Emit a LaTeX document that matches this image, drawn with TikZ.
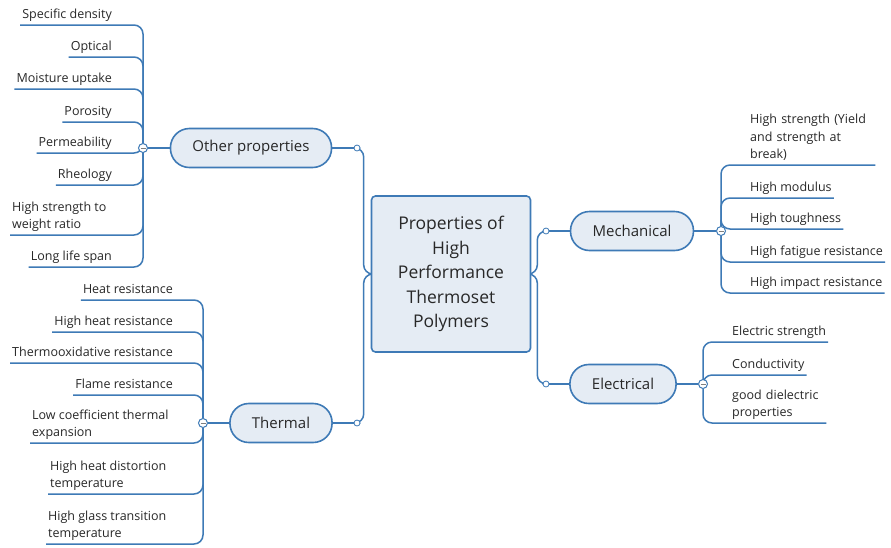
\documentclass[tikz,border=0pt]{standalone}
\usepackage{fontspec}
\setmainfont{Open Sans}
\definecolor{mapblue}{RGB}{62,122,182}
\definecolor{mapfill}{RGB}{229,236,244}
\definecolor{maptext}{RGB}{40,40,40}
\pgfdeclarelayer{back}
\pgfdeclarelayer{wires}
\pgfsetlayers{back,wires,main}

\tikzset{
  rootbox/.style={draw=mapblue, fill=mapfill, line width=1.6pt, rounded corners=4pt,
    minimum width=159pt, minimum height=156pt, align=center,
    font=\fontsize{17.5}{24.5}\selectfont, text=maptext},
  topic/.style={draw=mapblue, fill=mapfill, line width=1.6pt, rounded corners=19pt,
    minimum height=39pt, inner xsep=22pt, font=\fontsize{15}{17}\selectfont, text=maptext},
  leaf/.style={inner xsep=2pt, inner ysep=1pt, font=\fontsize{12.5}{17.5}\selectfont,
    text=maptext, execute at end node=\strut},
  hub/.style={circle, draw=mapblue, fill=white, line width=1pt, minimum size=9pt, inner sep=0pt,
    path picture={\draw[gray, line width=1pt]
      ([xshift=-2.5pt]path picture bounding box.center) -- ([xshift=2.5pt]path picture bounding box.center);}},
  joint/.style={circle, draw=mapblue, fill=white, line width=0.8pt, minimum size=6pt, inner sep=0pt},
  branch/.style={draw=mapblue, line width=1.5pt, rounded corners=9pt},
}

\begin{document}
\begin{tikzpicture}[x=1pt,y=-1pt]
    \begin{pgfonlayer}{back}
        \fill[white] (0,0) rectangle (891,547);
    \end{pgfonlayer}
    \useasboundingbox (0,0) rectangle (891,547);

    % centre
    \node[rootbox] (root) at (451,274) {Properties of\\High\\Performance\\Thermoset\\Polymers};

    % main topics
    \node[topic] (other) at (251,148) {Other properties};
    \node[topic] (thermal) at (281,423) {Thermal};
    \node[topic] (mech) at (632,231) {Mechanical};
    \node[topic] (elec) at (623,384) {Electrical};

    \node[joint] (oj) at (357,148) {};
    \node[joint] (tj) at (357,423) {};
    \node[joint] (mj) at (546,231) {};
    \node[joint] (ej) at (546,384) {};

    \node[hub] (oh) at (143,148) {};
    \node[hub] (th) at (203,423) {};
    \node[hub] (mh) at (721,231) {};
    \node[hub] (eh) at (703,384) {};

    % other properties
    \node[leaf, anchor=south east] (o1) at (114,25) {Specific density};
    \node[leaf, anchor=south east] (o2) at (114,57) {Optical};
    \node[leaf, anchor=south east] (o3) at (114,89) {Moisture uptake};
    \node[leaf, anchor=south east] (o4) at (114,122) {Porosity};
    \node[leaf, anchor=south east] (o5) at (114,153) {Permeability};
    \node[leaf, anchor=south east] (o6) at (114,185) {Rheology};
    \node[leaf, anchor=south west, align=left] (o7) at (10,235) {High strength to\\weight ratio};
    \node[leaf, anchor=south east] (o8) at (114,267) {Long life span};

    % thermal
    \node[leaf, anchor=south east] (t1) at (175,300) {Heat resistance};
    \node[leaf, anchor=south east] (t2) at (175,332) {High heat resistance};
    \node[leaf, anchor=south east] (t3) at (175,363) {Thermooxidative resistance};
    \node[leaf, anchor=south east] (t4) at (175,395) {Flame resistance};
    \node[leaf, anchor=south west, align=left] (t5) at (30,443) {Low coefficient thermal\\expansion};
    \node[leaf, anchor=south west, align=left] (t6) at (48,494) {High heat distortion\\temperature};
    \node[leaf, anchor=south west, align=left] (t7) at (46,544) {High glass transition\\temperature};

    % mechanical
    \node[leaf, anchor=south west, text width=123pt, align=left] (m1) at (748,165) {High strength (Yield\\and strength at\\break)};
    \node[leaf, anchor=south west] (m2) at (748,198) {High modulus};
    \node[leaf, anchor=south west] (m3) at (748,229) {High toughness};
    \node[leaf, anchor=south west] (m4) at (748,262) {High fatigue resistance};
    \node[leaf, anchor=south west] (m5) at (748,293) {High impact resistance};

    % electrical
    \node[leaf, anchor=south west] (e1) at (730,342) {Electric strength};
    \node[leaf, anchor=south west] (e2) at (730,375) {Conductivity};
    \node[leaf, anchor=south west, text width=92pt, align=left] (e3) at (730,423) {good dielectric\\properties};

    \begin{pgfonlayer}{wires}
        \draw[branch] (root.west) -- ++(-7,0) |- (oj);
        \draw[branch] (root.west) -- ++(-7,0) |- (tj);
        \draw[branch] (root.east) -- ++(6,0) |- (mj);
        \draw[branch] (root.east) -- ++(6,0) |- (ej);
        \draw[branch] (oj) -- (other.east);
        \draw[branch] (tj) -- (thermal.east);
        \draw[branch] (mj) -- (mech.west);
        \draw[branch] (ej) -- (elec.west);

        \draw[branch] (other.west) -- (oh);
        \draw[branch] (thermal.west) -- (th);
        \draw[branch] (mech.east) -- (mh);
        \draw[branch] (elec.east) -- (eh);

        \foreach \n in {o1,o2,o3,o4,o5,o6,o7,o8}
            \draw[branch] (oh) |- (\n.south west);
        \foreach \n in {t1,t2,t3,t4,t5,t6,t7}
            \draw[branch] (th) |- (\n.south west);
        \foreach \n in {m1,m2,m3,m4,m5}
            \draw[branch] (mh) |- (\n.south east);
        \foreach \n in {e1,e2,e3}
            \draw[branch] (eh) |- (\n.south east);
    \end{pgfonlayer}
\end{tikzpicture}
\end{document}
